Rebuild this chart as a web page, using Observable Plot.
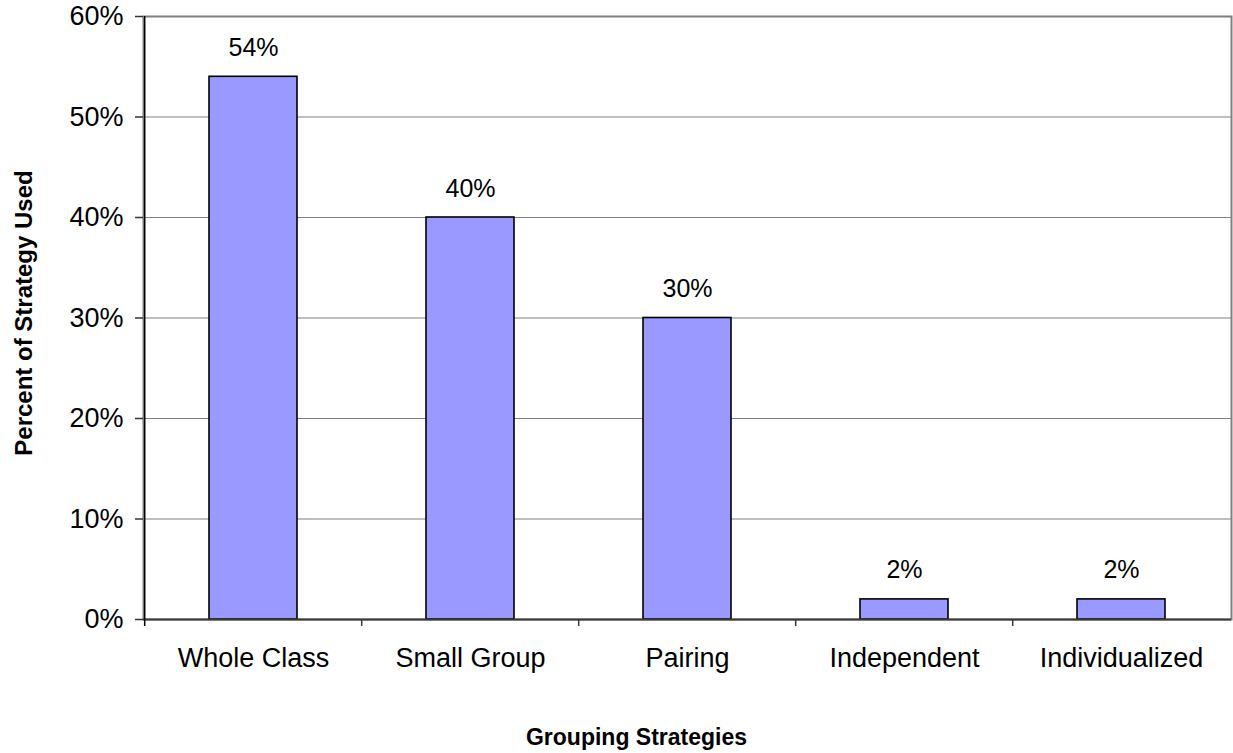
<!DOCTYPE html>
<html>
<head>
<meta charset="utf-8">
<script src="https://cdn.jsdelivr.net/npm/d3@7"></script>
<script src="https://cdn.jsdelivr.net/npm/@observablehq/plot@0.6"></script>
<style>
  body { margin: 0; background: #fff; }
  svg { display: block; }
</style>
</head>
<body>
<div id="chart"></div>
<script>
// Share of each grouping strategy used in class
const strategies = ["Whole Class", "Small Group", "Pairing", "Independent", "Individualized"];
const percentUsed = [54, 40, 30, 2, 2];
const yTicks = [0, 10, 20, 30, 40, 50, 60];
const xTitle = "Grouping Strategies";
const yTitle = "Percent of Strategy Used";

const W = 1233, H = 753;
const mL = 143, mR = 2, mT = 16, mB = 134;
const step = (W - mL - mR) / strategies.length;   // width of one category slot
const font = '"Liberation Sans", Arial, Helvetica, sans-serif';

const rows = strategies.map((s, i) => ({strategy: s, value: percentUsed[i]}));

const chart = Plot.plot({
  width: W,
  height: H,
  marginLeft: mL,
  marginRight: mR,
  marginTop: mT,
  marginBottom: mB,
  style: {fontFamily: font, background: "#fff", color: "#000", overflow: "visible"},
  x: {domain: strategies, paddingInner: 0.596, paddingOuter: 0.298, label: null},
  y: {domain: [0, 60], label: null},
  marks: [
    // horizontal gridlines and the plot border
    Plot.gridY(yTicks, {stroke: "#808080", strokeOpacity: 1, strokeWidth: 1.2}),
    Plot.frame({stroke: "#808080", strokeWidth: 2}),
    // bars
    Plot.barY(rows, {x: "strategy", y: "value", fill: "#9999ff", stroke: "#000", strokeWidth: 1.6}),
    // bottom axis line and category boundary ticks
    Plot.ruleY([0], {stroke: "#3a3a3a", strokeWidth: 2}),
    Plot.ruleX(strategies.slice(1), {x: d => d, dx: -step / 2, y1: 0, y2: -0.7, stroke: "#3a3a3a", strokeWidth: 1.5}),
    // left axis line
    Plot.ruleX(strategies.slice(0, 1), {x: d => d, dx: -step / 2, y1: -0.7, y2: 60, stroke: "#000", strokeWidth: 1.5}),
    // y axis ticks and labels
    Plot.axisY(yTicks, {
      tickSize: 8, tickPadding: 12, tickFormat: d => d + "%",
      fontSize: 27, stroke: "#333", strokeWidth: 1.5, fill: "#000", label: null
    }),
    // x axis category labels
    Plot.axisX({tickSize: 0, tickPadding: 28, fontSize: 27, fill: "#000", label: null}),
    // value labels above bars
    Plot.text(rows, {
      x: "strategy", y: "value", text: d => d.value + "%",
      dy: -21, lineAnchor: "bottom", fontSize: 25, fill: "#000"
    }),
    // axis titles
    Plot.text([xTitle], {
      frameAnchor: "bottom", dx: -51, dy: 125, lineAnchor: "bottom",
      fontSize: 23, fontWeight: "bold", fill: "#000"
    }),
    Plot.text([yTitle], {
      frameAnchor: "left", textAnchor: "middle", rotate: -90, dx: -119, dy: -5,
      fontSize: 24, fontWeight: "bold", fill: "#000"
    })
  ]
});

document.getElementById("chart").appendChild(chart);
</script>
</body>
</html>
